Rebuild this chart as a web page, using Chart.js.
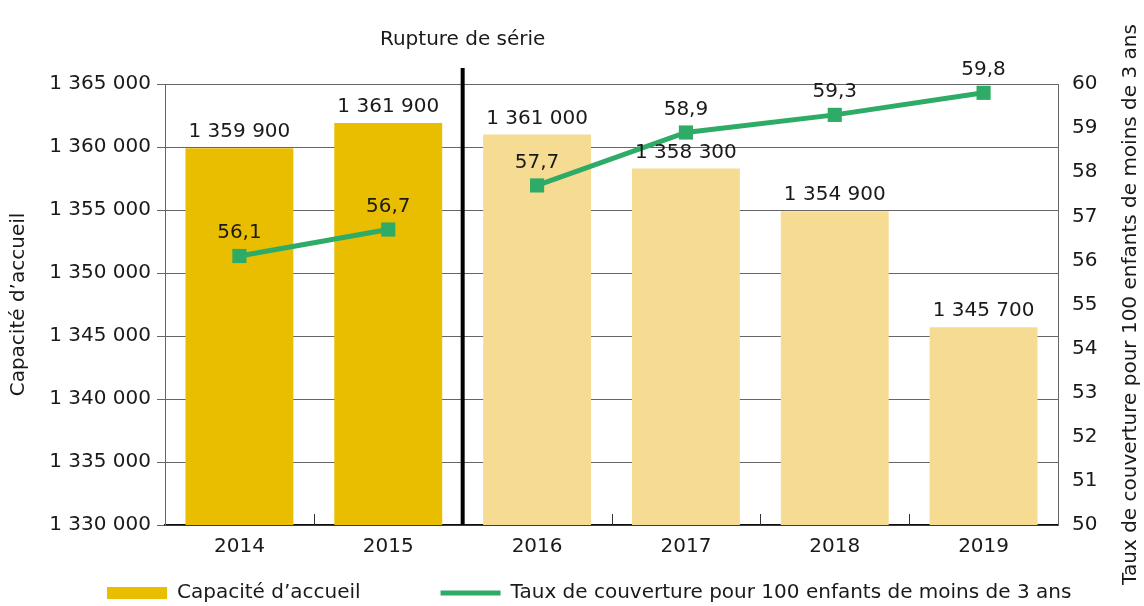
<!DOCTYPE html>
<html>
<head>
<meta charset="utf-8">
<script src="https://cdn.jsdelivr.net/npm/chart.js@4/dist/chart.umd.min.js"></script>
<style>
  html, body { margin: 0; padding: 0; background: #fff; }
  #wrap { width: 1144px; height: 606px; position: relative; }
</style>
</head>
<body>
<div id="wrap"><canvas id="c" width="1144" height="606"></canvas></div>
<script>
const categories = ['2014', '2015', '2016', '2017', '2018', '2019'];
const capacite = [1359900, 1361900, 1361000, 1358300, 1354900, 1345700];
const taux = [56.1, 56.7, 57.7, 58.9, 59.3, 59.8];
const barColors = ['#E9BE00', '#E9BE00', '#F6DC93', '#F6DC93', '#F6DC93', '#F6DC93'];
const breakAfterIndex = 1;
const breakLabel = 'Rupture de série';
const leftTitle = "Capacité d’accueil";
const rightTitle = 'Taux de couverture pour 100 enfants de moins de 3 ans';

const FONT = 'DejaVu Sans';
const FS = 20;
const GREEN = '#2EAB66';
const TEXT = '#1a1a1a';

function fmtInt(v) {
  return String(Math.round(v)).replace(/\B(?=(\d{3})+(?!\d))/g, ' ');
}
function fmtDec(v) {
  return v.toFixed(1).replace('.', ',');
}

const annotations = {
  id: 'annotations',
  afterLayout(chart) {
    const lg = chart.legend;
    if (lg) {
      const shift = 97 - lg.left;
      lg.left += shift;
      lg.right += shift;
      lg.top += 7;
      lg.bottom += 7;
    }
  },
  afterDatasetsDraw(chart) {
    const ctx = chart.ctx;
    const area = chart.chartArea;
    const x = chart.scales.x;
    ctx.save();
    // inward ticks at category boundaries
    ctx.strokeStyle = '#333';
    ctx.lineWidth = 1;
    for (let i = 0; i < categories.length - 1; i++) {
      const bx = Math.round((x.getPixelForValue(i) + x.getPixelForValue(i + 1)) / 2) + 0.5;
      ctx.beginPath();
      ctx.moveTo(bx, area.bottom);
      ctx.lineTo(bx, area.bottom - 11);
      ctx.stroke();
    }
    // series break line
    const px = (x.getPixelForValue(breakAfterIndex) + x.getPixelForValue(breakAfterIndex + 1)) / 2;
    ctx.strokeStyle = '#000';
    ctx.lineWidth = 4;
    ctx.beginPath();
    ctx.moveTo(px, area.top - 16);
    ctx.lineTo(px, area.bottom);
    ctx.stroke();
    ctx.fillStyle = TEXT;
    ctx.font = FS + 'px "' + FONT + '"';
    ctx.textAlign = 'center';
    ctx.textBaseline = 'middle';
    ctx.fillText(breakLabel, px, 40);

    // bar labels
    const barMeta = chart.getDatasetMeta(0);
    barMeta.data.forEach((el, i) => {
      ctx.fillText(fmtInt(capacite[i]), el.x, el.y - 16);
    });
    // line labels
    const lineMeta = chart.getDatasetMeta(1);
    lineMeta.data.forEach((el, i) => {
      ctx.fillText(fmtDec(taux[i]), el.x, el.y - 23);
    });

    // right axis title (reads bottom to top)
    ctx.save();
    ctx.translate(1131, (area.top + area.bottom) / 2);
    ctx.rotate(-Math.PI / 2);
    ctx.fillText(rightTitle, 0, 0);
    ctx.restore();
    ctx.restore();
  }
};

new Chart(document.getElementById('c'), {
  data: {
    labels: categories,
    datasets: [
      {
        type: 'bar',
        label: leftTitle,
        data: capacite,
        backgroundColor: barColors,
        borderWidth: 0,
        yAxisID: 'y',
        categoryPercentage: 1,
        barPercentage: 0.725,
        pointStyle: 'rect',
        order: 2
      },
      {
        type: 'line',
        label: rightTitle,
        data: taux,
        borderColor: GREEN,
        backgroundColor: GREEN,
        borderWidth: 5,
        pointStyle: 'rect',
        pointRadius: 10,
        pointBorderWidth: 0,
        pointBackgroundColor: GREEN,
        yAxisID: 'y1',
        tension: 0,
        order: 1,
        segment: {
          borderColor: c => c.p0DataIndex === breakAfterIndex ? 'rgba(0,0,0,0)' : GREEN
        }
      }
    ]
  },
  options: {
    responsive: false,
    animation: false,
    devicePixelRatio: 1,
    layout: { padding: { top: 84, left: 0, right: 0, bottom: 0 } },
    plugins: {
      tooltip: { enabled: false },
      legend: {
        position: 'bottom',
        align: 'start',
        labels: {
          color: TEXT,
          font: { family: FONT, size: FS },
          usePointStyle: true,
          pointStyleWidth: 60,
          boxHeight: 12,
          padding: 10,
          generateLabels(chart) {
            const items = Chart.defaults.plugins.legend.labels.generateLabels(chart)
              .sort((a, b) => a.datasetIndex - b.datasetIndex);
            items[0].pointStyle = 'rect';
            items[0].fillStyle = barColors[0];
            items[0].lineWidth = 0;
            items[0].text = items[0].text + '           ';
            items[1].pointStyle = 'line';
            items[1].strokeStyle = GREEN;
            items[1].lineWidth = 5;
            return items;
          }
        }
      }
    },
    scales: {
      x: {
        offset: true,
        grid: { display: false },
        border: { color: '#111', width: 1.5 },
        ticks: { color: TEXT, font: { family: FONT, size: FS }, padding: 2 },
        afterFit(s) { s.height = 41; }
      },
      y: {
        position: 'left',
        min: 1330000,
        max: 1365000,
        ticks: {
          stepSize: 5000,
          color: TEXT,
          font: { family: FONT, size: FS },
          padding: 6,
          callback: v => fmtInt(v)
        },
        grid: { color: '#666', lineWidth: 1, tickLength: 8, drawTicks: true },
        border: { color: '#666', width: 1 },
        title: {
          display: true,
          text: leftTitle,
          color: TEXT,
          font: { family: FONT, size: FS },
          padding: { top: 7, bottom: 4 }
        },
        afterFit(s) { s.width = 165; }
      },
      y1: {
        position: 'right',
        min: 50,
        max: 60,
        ticks: {
          stepSize: 1,
          color: TEXT,
          font: { family: FONT, size: FS },
          padding: 6
        },
        grid: { display: false, drawOnChartArea: false },
        border: { color: '#666', width: 1 },
        afterFit(s) { s.width = 86; }
      }
    }
  },
  plugins: [annotations]
});
</script>
</body>
</html>
